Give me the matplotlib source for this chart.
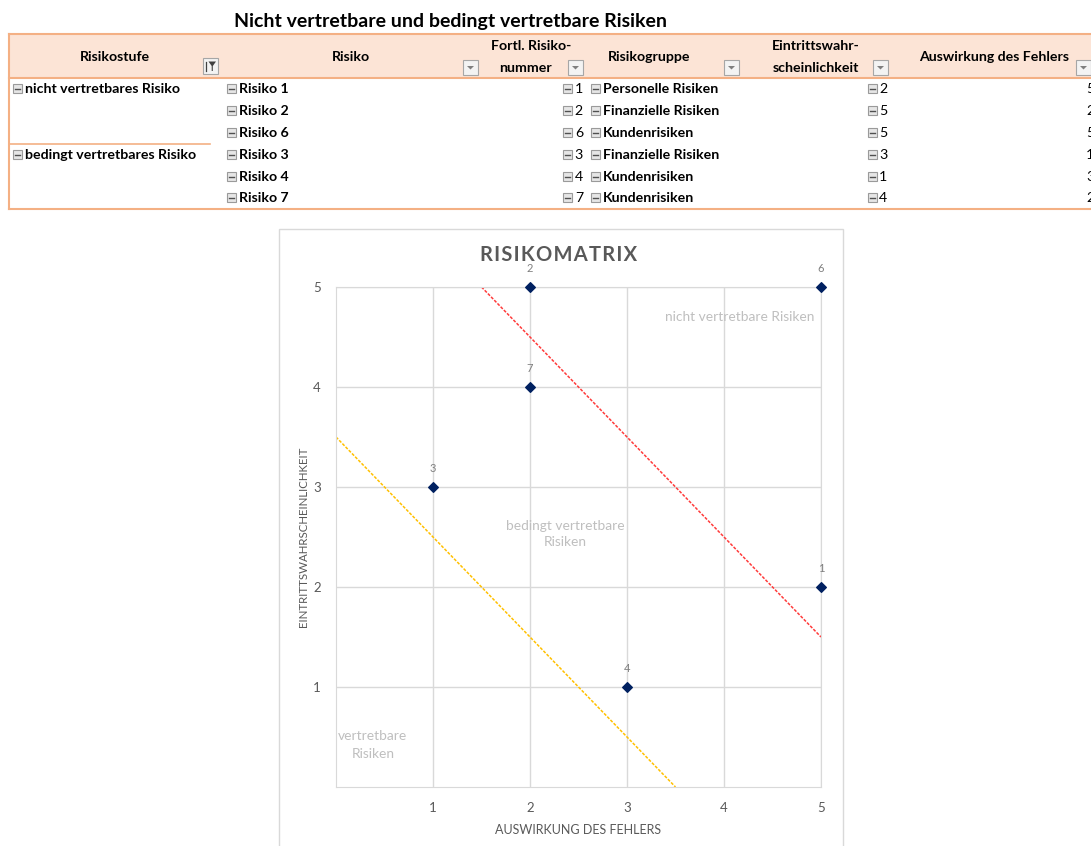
import matplotlib
matplotlib.use("Agg")
import matplotlib.pyplot as plt
from matplotlib.patches import Rectangle, Polygon

W, H = 1091, 846
FONT = ["Lato", "DejaVu Sans"]

# pivot table contents
table_title = "Nicht vertretbare und bedingt vertretbare Risiken"
levels = ["nicht vertretbares Risiko", "bedingt vertretbares Risiko"]
level_rows = [0, 3]
risks = ["Risiko 1", "Risiko 2", "Risiko 6", "Risiko 3", "Risiko 4", "Risiko 7"]
risk_numbers = [1, 2, 6, 3, 4, 7]
risk_groups = ["Personelle Risiken", "Finanzielle Risiken", "Kundenrisiken",
               "Finanzielle Risiken", "Kundenrisiken", "Kundenrisiken"]
probability = [2, 5, 5, 3, 1, 4]
impact = [5, 2, 5, 1, 3, 2]

# threshold lines of the matrix
red_line_x = [1.5, 5.0]
red_line_y = [5.0, 1.5]
yellow_line_x = [0.0, 3.5]
yellow_line_y = [3.5, 0.0]

PEACH = "#FCE4D6"
ORANGE = "#F4B084"
TXT = "#000000"

fig = plt.figure(figsize=(W / 100, H / 100), dpi=100)
fig.patch.set_facecolor("white")

# overlay axes in pixel coordinates for the table
ov = fig.add_axes([0, 0, 1, 1])
ov.set_xlim(0, W)
ov.set_ylim(H, 0)
ov.axis("off")


def minus_box(x, y):
    ov.add_patch(Rectangle((x, y - 4.5), 9, 9, facecolor="#E6E6E6",
                           edgecolor="#9A9A9A", lw=0.8))
    ov.plot([x + 2.2, x + 6.8], [y, y], color="#505050", lw=1.0)


def dropdown(x, y0):
    ov.add_patch(Rectangle((x, y0), 15, 15, facecolor="#F3F3F3",
                           edgecolor="#A6A6A6", lw=0.8))
    cx, cy = x + 7.5, y0 + 7.5
    ov.add_patch(Polygon([[cx - 3.5, cy - 1.5], [cx + 3.5, cy - 1.5], [cx, cy + 2]],
                         closed=True, color="#7F7F7F", lw=0))


ov.text(450, 21, table_title, fontsize=14, fontweight="bold", family=FONT,
        ha="center", va="center", color=TXT)

# header band
ov.add_patch(Rectangle((9, 34), W - 9, 44, facecolor=PEACH, edgecolor="none"))
ov.plot([9, W], [34, 34], color=ORANGE, lw=1.5)
ov.plot([9, W], [78, 78], color=ORANGE, lw=1.5)
ov.plot([9, 9], [34, 209], color=ORANGE, lw=1.5)
ov.plot([9, W], [209, 209], color=ORANGE, lw=1.5)
ov.plot([9, 210], [144, 144], color=ORANGE, lw=1.2)

hkw = dict(fontsize=10.2, fontweight="bold", family=FONT, va="center", color=TXT)
ov.text(115, 57, "Risikostufe", ha="center", **hkw)
ov.text(351, 57, "Risiko", ha="center", **hkw)
ov.text(531, 46, "Fortl. Risiko-", ha="center", **hkw)
ov.text(525, 68, "nummer", ha="center", **hkw)
ov.text(649, 57, "Risikogruppe", ha="center", **hkw)
ov.text(816, 46, "Eintrittswahr-", ha="center", **hkw)
ov.text(816, 68, "scheinlichkeit", ha="center", **hkw)
ov.text(994, 57, "Auswirkung des Fehlers", ha="center", **hkw)

# filter / dropdown buttons
ov.add_patch(Rectangle((203, 58), 15, 16, facecolor="#F3F3F3",
                       edgecolor="#A6A6A6", lw=0.8))
ov.add_patch(Polygon([[208.5, 61.5], [216, 61.5], [212.8, 66], [212.8, 71], [211.7, 71], [211.7, 66]],
                     closed=True, color="#404040", lw=0))
ov.plot([206, 206], [62, 71], color="#404040", lw=0.9)
for bx, by in [(463, 60), (568, 60), (724, 60), (873, 60), (1076, 60)]:
    dropdown(bx, by)

row_y = [89, 111, 133, 155, 177, 198]
bkw = dict(fontsize=10.2, fontweight="bold", family=FONT, va="center", color=TXT)
nkw = dict(fontsize=10.2, family=FONT, va="center", color=TXT)

for name, r in zip(levels, level_rows):
    minus_box(13, row_y[r])
    ov.text(25, row_y[r], name, ha="left", **bkw)

for i, y in enumerate(row_y):
    minus_box(227, y)
    ov.text(239, y, risks[i], ha="left", **bkw)
    minus_box(563, y)
    ov.text(583, y, str(risk_numbers[i]), ha="right", **nkw)
    minus_box(591, y)
    ov.text(603, y, risk_groups[i], ha="left", **bkw)
    minus_box(868, y)
    ov.text(879, y, str(probability[i]), ha="left", **nkw)
    ov.text(1086, y, str(impact[i]), ha="left", **nkw)

# chart frame
ov.add_patch(Rectangle((279, 229), 564, 630, facecolor="white",
                       edgecolor="#D9D9D9", lw=1.0))
ov.text(559, 255, "\u200a".join("RISIKOMATRIX"), fontsize=14.5, fontweight="bold",
        family=FONT, ha="center", va="center", color="#595959")

# risk matrix
ax = fig.add_axes([336 / W, 1 - 787 / H, 485 / W, 500 / H])
ax.set_xlim(0, 5)
ax.set_ylim(0, 5)
ax.set_xticks([1, 2, 3, 4, 5])
ax.set_yticks([1, 2, 3, 4, 5])
ax.grid(True, color="#D9D9D9", lw=1.0)
ax.set_axisbelow(True)
for s in ax.spines.values():
    s.set_color("#D9D9D9")
ax.tick_params(length=0, labelsize=9.5, colors="#595959", pad=11)
for lab in ax.get_xticklabels() + ax.get_yticklabels():
    lab.set_family(FONT)

ax.plot(red_line_x, red_line_y, color="#FF3B3B", lw=1.1, dashes=(2, 1))
ax.plot(yellow_line_x, yellow_line_y, color="#FFC000", lw=1.1, dashes=(2, 1))

ax.scatter(impact, probability, marker="D", s=24, color="#002060", zorder=5,
           clip_on=False)
for xv, yv, n in zip(impact, probability, risk_numbers):
    ax.annotate(str(n), (xv, yv), xytext=(0, 13), textcoords="offset points",
                ha="center", va="center", fontsize=8, color="#7F7F7F",
                family=FONT, annotation_clip=False)

gkw = dict(fontsize=9.9, color="#BFBFBF", family=FONT, ha="center", va="center")
ax.text(4.16, 4.7, "nicht vertretbare Risiken", **gkw)
ax.text(2.36, 2.53, "bedingt vertretbare\nRisiken", linespacing=1.5, **gkw)
ax.text(0.38, 0.42, "vertretbare\nRisiken", linespacing=1.5, **gkw)

ax.set_xlabel("AUSWIRKUNG DES FEHLERS", fontsize=9, color="#595959",
              family=FONT, labelpad=7)
ax.set_ylabel("EINTRITTSWAHRSCHEINLICHKEIT", fontsize=8.3, color="#595959",
              family=FONT, labelpad=3)

fig.savefig("out.png", dpi=100)
